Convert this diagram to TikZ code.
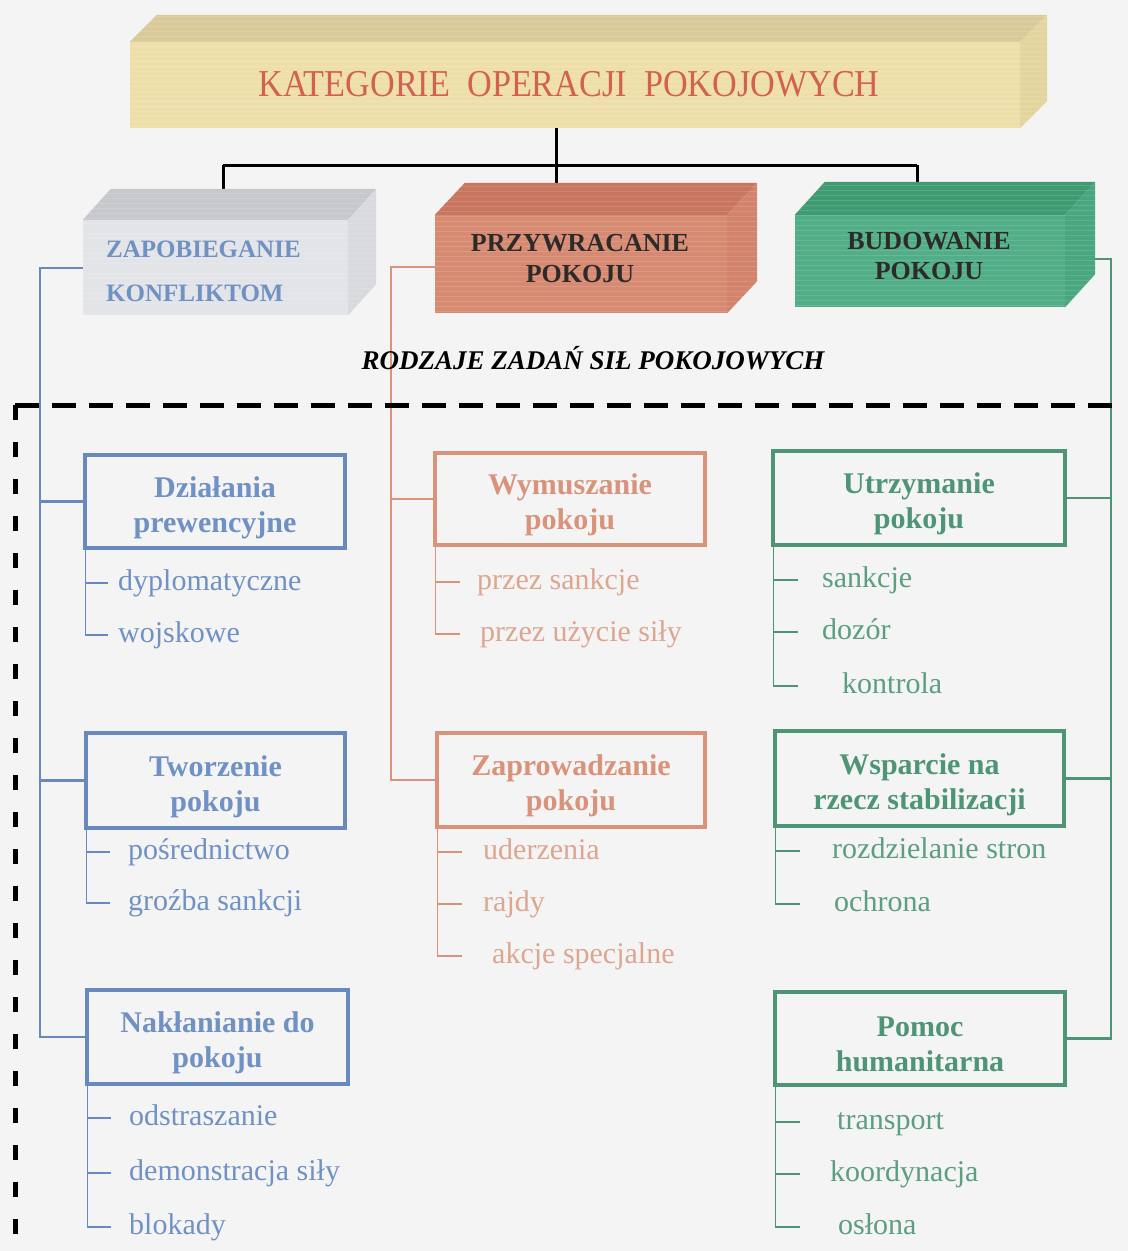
\documentclass[tikz,border=0pt]{standalone}
\usepackage{fontspec}
\usepackage{graphicx}
\setmainfont{Liberation Serif}
\definecolor{paper}{HTML}{F4F4F5}
\definecolor{bl}{HTML}{6789BE}
\definecolor{blt}{HTML}{7091C3}
\definecolor{sa}{HTML}{D8937A}
\definecolor{sat}{HTML}{DCA68F}
\definecolor{gr}{HTML}{4E9576}
\definecolor{grt}{HTML}{5B9E80}
\definecolor{barfront}{HTML}{EEDFAA}
\definecolor{bartop}{HTML}{DACA9A}
\definecolor{barside}{HTML}{E4D49E}
\definecolor{grayfront}{HTML}{E2E4E8}
\definecolor{graytop}{HTML}{C7C8CC}
\definecolor{grayside}{HTML}{D8DADE}
\definecolor{salfront}{HTML}{D78A72}
\definecolor{saltop}{HTML}{C9765F}
\definecolor{salside}{HTML}{D3836B}
\definecolor{grnfront}{HTML}{51AE87}
\definecolor{grntop}{HTML}{3F9B72}
\definecolor{grnside}{HTML}{49A77F}
\definecolor{headred}{HTML}{D2614F}
\definecolor{darkt}{HTML}{2E2A2A}

% top and right faces of a block whose front face is the node #1
\newcommand{\cubefaces}[5]{% node, top colour, side colour, dx, dy
  \fill[#2] (#1.north west) -- ++(#4,-#5) -- ([shift={(#4,-#5)}]#1.north east) -- (#1.north east) -- cycle;
  \fill[#3] (#1.north east) -- ++(#4,-#5) -- ([shift={(#4,-#5)}]#1.south east) -- (#1.south east) -- cycle;
  \begin{scope}
    \clip (#1.north west) -- ++(#4,-#5) -- ([shift={(#4,-#5)}]#1.north east)
      -- ([shift={(#4,-#5)}]#1.south east) -- (#1.south east) -- (#1.south west) -- cycle;
    \foreach \k in {2,7,...,140}
      \draw[white, opacity=0.13, line width=1.3pt]
        ([yshift=\k pt]#1.south west) -- ([shift={(#4,0)},yshift=\k pt]#1.south east);
  \end{scope}
}

\begin{document}
\begin{tikzpicture}[x=1pt,y=-1pt,
  front/.style={inner sep=0pt, minimum width=#1},
  subbox/.style={draw, line width=3.5pt, inner sep=0pt},
  boxtitle/.style={align=center, inner sep=0pt, yshift=-6pt,
    font=\fontsize{30}{35}\selectfont\bfseries},
  item/.style={anchor=west, inner sep=0pt, text height=21pt, text depth=6.5pt,
    font=\fontsize{30}{34}\selectfont},
  trunk/.style={line width=2.4pt},
  twig/.style={line width=1.4pt},
  hub/.style={line width=3pt, black},
  fence/.style={line width=5pt, black, dash pattern=on 24pt off 13pt},
  fencev/.style={line width=5pt, black, dash pattern=on 15pt off 22pt},
]
\useasboundingbox (0,0) rectangle (1128,1251);
\fill[paper] (0,0) rectangle (1128,1251);

% ---------- block front faces ----------
\node[front=890pt, minimum height=86pt, fill=barfront] (bar) at (575,85) {};
\node[front=265pt, minimum height=95pt, fill=grayfront] (zap) at (215.5,267.5) {};
\node[front=292pt, minimum height=98pt, fill=salfront] (prz) at (581,264) {};
\node[front=270pt, minimum height=92pt, fill=grnfront] (bud) at (930,261) {};

% ---------- task boxes ----------
\node[subbox, draw=bl, minimum width=260pt, minimum height=93pt] (dp) at (215,501.5) {};
\node[subbox, draw=bl, minimum width=259pt, minimum height=95pt] (tw) at (215.5,780.5) {};
\node[subbox, draw=bl, minimum width=261pt, minimum height=94pt] (nak) at (217.5,1037) {};
\node[subbox, draw=sa, minimum width=270pt, minimum height=92pt] (wym) at (570,499) {};
\node[subbox, draw=sa, minimum width=268pt, minimum height=94pt] (zpr) at (571,780) {};
\node[subbox, draw=gr, minimum width=292pt, minimum height=94pt] (utr) at (919,498) {};
\node[subbox, draw=gr, minimum width=289pt, minimum height=95pt] (wsp) at (919.5,778.5) {};
\node[subbox, draw=gr, minimum width=290pt, minimum height=93pt] (pom) at (920,1038.5) {};

\node[boxtitle, text=blt] (dpt) at (dp) {Działania\\prewencyjne};
\node[boxtitle, text=blt] (twt) at (tw) {Tworzenie\\pokoju};
\node[boxtitle, text=blt] (nakt) at (nak) {Nakłanianie do\\pokoju};
\node[boxtitle, text=sa] (wymt) at (wym) {Wymuszanie\\pokoju};
\node[boxtitle, text=sa] (zprt) at (zpr) {Zaprowadzanie\\pokoju};
\node[boxtitle, text=gr] (utrt) at (utr) {Utrzymanie\\pokoju};
\node[boxtitle, text=gr] (wspt) at (wsp) {Wsparcie na\\rzecz stabilizacji};
\node[boxtitle, text=gr] (pomt) at (pom) {Pomoc\\humanitarna};

% ---------- items ----------
\begin{scope}[every node/.style={item, text=blt}]
  \node (a1) at (118,583) {dyplomatyczne};
  \node (a2) at (118,635) {wojskowe};
  \node (b1) at (128,852) {pośrednictwo};
  \node (b2) at (128,903) {groźba sankcji};
  \node (c1) at (129,1118) {odstraszanie};
  \node (c2) at (129,1173) {demonstracja siły};
  \node (c3) at (129,1227) {blokady};
\end{scope}
\begin{scope}[every node/.style={item, text=sat}]
  \node (d1) at (477,582) {przez sankcje};
  \node (d2) at (480,634) {przez użycie siły};
  \node (e1) at (483,852) {uderzenia};
  \node (e2) at (483,904) {rajdy};
  \node (e3) at (492,956) {akcje specjalne};
\end{scope}
\begin{scope}[every node/.style={item, text=grt}]
  \node (f1) at (822,580) {sankcje};
  \node (f2) at (822,632) {dozór};
  \node (f3) at (842,686) {kontrola};
  \node (g1) at (832,851) {rozdzielanie stron};
  \node (g2) at (834,904) {ochrona};
  \node (h1) at (837,1122) {transport};
  \node (h2) at (830,1174) {koordynacja};
  \node (h3) at (838,1227) {osłona};
\end{scope}

% ---------- hierarchy connectors ----------
\coordinate (hub) at (556,165);
\coordinate (hl) at (223,165);
\coordinate (hr) at (917,165);
\draw[hub] (bar.south -| hub) -- (hub);
\draw[hub] (hl) -- (hr);
\draw[hub] (hl) -- (hl |- zap.north);
\draw[hub] (hub) -- (hub |- prz.north);
\draw[hub] (hr) -- (hr |- bud.north);

% blue trunk
\coordinate (bt) at (40,268);
\draw[trunk, bl] (zap.west |- bt) -- (bt) -- (bt |- nak.west) -- (nak.west);
\draw[trunk, bl] (bt |- dp.west) -- (dp.west);
\draw[trunk, bl] (bt |- tw.west) -- (tw.west);

% salmon trunk
\coordinate (st) at (391,267);
\draw[trunk, sa] (prz.west |- st) -- (st) -- (st |- zpr.west) -- (zpr.west);
\draw[trunk, sa] (st |- wym.west) -- (wym.west);

% green trunk
\coordinate (gt) at (1111,259);
\draw[trunk, gr] (bud.east |- gt) -- (gt) -- (gt |- pom.east) -- (pom.east);
\draw[trunk, gr] (gt |- utr.east) -- (utr.east);
\draw[trunk, gr] (gt |- wsp.east) -- (wsp.east);

% item brackets
\coordinate (dpv) at ([xshift=2pt]dp.south west);
\coordinate (twv) at ([xshift=2pt]tw.south west);
\coordinate (nakv) at ([xshift=2pt]nak.south west);
\coordinate (wymv) at ([xshift=2pt]wym.south west);
\coordinate (zprv) at ([xshift=2pt]zpr.south west);
\coordinate (utrv) at ([xshift=2pt]utr.south west);
\coordinate (wspv) at ([xshift=2pt]wsp.south west);
\coordinate (pomv) at ([xshift=2pt]pom.south west);

\draw[twig, bl] (dpv) -- (dpv |- a2.west);
\foreach \i in {a1,a2} \draw[twig, bl] (dpv |- \i.west) -- ++(23,0);
\draw[twig, bl] (twv) -- (twv |- b2.west);
\foreach \i in {b1,b2} \draw[twig, bl] (twv |- \i.west) -- ++(24,0);
\draw[twig, bl] (nakv) -- (nakv |- c3.west);
\foreach \i in {c1,c2,c3} \draw[twig, bl] (nakv |- \i.west) -- ++(24,0);

\draw[twig, sa] (wymv) -- (wymv |- d2.west);
\foreach \i in {d1,d2} \draw[twig, sa] (wymv |- \i.west) -- ++(25,0);
\draw[twig, sa] (zprv) -- (zprv |- e3.west);
\foreach \i in {e1,e2,e3} \draw[twig, sa] (zprv |- \i.west) -- ++(25,0);

\draw[twig, gr] (utrv) -- (utrv |- f3.west);
\foreach \i in {f1,f2,f3} \draw[twig, gr] (utrv |- \i.west) -- ++(25,0);
\draw[twig, gr] (wspv) -- (wspv |- g2.west);
\foreach \i in {g1,g2} \draw[twig, gr] (wspv |- \i.west) -- ++(25,0);
\draw[twig, gr] (pomv) -- (pomv |- h3.west);
\foreach \i in {h1,h2,h3} \draw[twig, gr] (pomv |- \i.west) -- ++(25,0);

% ---------- block top and side faces (over connector ends) ----------
\cubefaces{bar}{bartop}{barside}{27}{27}
\cubefaces{zap}{graytop}{grayside}{28}{31}
\cubefaces{prz}{saltop}{salside}{30}{32}
\cubefaces{bud}{grntop}{grnside}{30}{33}

% ---------- block labels ----------
\node[text=headred, font=\fontsize{38}{42}\selectfont] (bartxt) at (569,84)
  {\scalebox{0.9}[1]{KATEGORIE\hspace{0.5em}OPERACJI\hspace{0.5em}POKOJOWYCH}};
\node[anchor=west, align=left, text=blt, inner sep=0pt,
  font=\fontsize{25}{44}\selectfont\bfseries] (zapt) at (106,271)
  {ZAPOBIEGANIE\\KONFLIKTOM};
\node[align=center, text=darkt, inner sep=0pt,
  font=\fontsize{26}{31}\selectfont\bfseries] (przt) at (580,259)
  {PRZYWRACANIE\\POKOJU};
\node[align=center, text=darkt, inner sep=0pt,
  font=\fontsize{26}{30}\selectfont\bfseries] (budt) at (929,256)
  {BUDOWANIE\\POKOJU};

\node[font=\fontsize{27}{30}\selectfont\bfseries\itshape] (rodz) at (593,358)
  {RODZAJE ZADAŃ SIŁ POKOJOWYCH};

% ---------- dashed frame ----------
\coordinate (fc) at (15,405);
\coordinate (fe) at (1118,405);
\coordinate (fb) at (15,1251);
\draw[fence] (fc) -- (fe);
\draw[fencev] (fc) -- (fb);
\end{tikzpicture}
\end{document}
